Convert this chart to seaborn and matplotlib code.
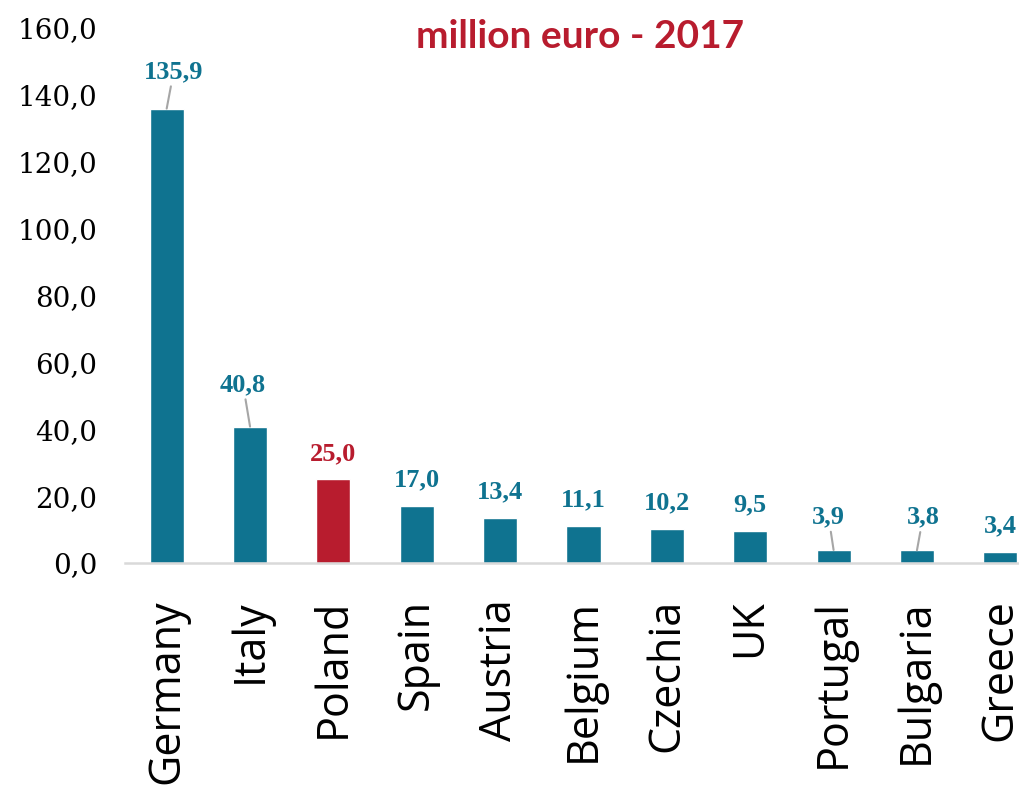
# Bar chart: value per capita, million euro - 2017

import matplotlib
matplotlib.use("Agg")
import matplotlib.pyplot as plt
import pandas as pd
import seaborn as sns

# Data
countries = ["Germany", "Italy", "Poland", "Spain", "Austria", "Belgium",
             "Czechia", "UK", "Portugal", "Bulgaria", "Greece"]
values = [135.9, 40.8, 25.0, 17.0, 13.4, 11.1, 10.2, 9.5, 3.9, 3.8, 3.4]
highlight = "Poland"
title = "million euro - 2017"

teal = "#0F7390"
red = "#B81C2E"

df = pd.DataFrame({"country": countries, "value": values})
palette = {c: (red if c == highlight else teal) for c in countries}

# label offsets in pixels (dx, dy) from bar top, and whether a leader line is drawn
label_style = {
    "Germany": (7, 37, True),
    "Italy": (-7, 42, True),
    "Portugal": (-5, 33, True),
    "Bulgaria": (6, 33, True),
}

sns.set_style("white")
fig = plt.figure(figsize=(10.2, 7.92), dpi=100)
ax = fig.add_axes([125 / 1020, 229 / 792, 917 / 1020, 535 / 792])

sns.barplot(data=df, x="country", y="value", hue="country", palette=palette,
            width=0.41, legend=False, ax=ax, saturation=1)

ax.set_ylim(0, 160)
ax.set_xlim(-0.5, len(countries) - 0.5)
ax.set_yticks(range(0, 161, 20))
ax.set_yticklabels([f"{v:.1f}".replace(".", ",") for v in range(0, 161, 20)],
                   family="DejaVu Serif", fontsize=20, color="black")
ax.set_xticks(range(len(countries)))
ax.set_xticklabels(countries, rotation=90, family="Open Sans", fontsize=31,
                   va="top", color="black")
ax.tick_params(axis="y", length=0, pad=20)
ax.tick_params(axis="x", length=0, pad=26)
ax.set_xlabel("")
ax.set_ylabel("")

for s in ["top", "right", "left"]:
    ax.spines[s].set_visible(False)
ax.spines["bottom"].set_color("#D9D9D9")
ax.spines["bottom"].set_linewidth(1.8)

for i, (c, v) in enumerate(zip(countries, values)):
    dx, dy, line = label_style.get(c, (0, 26, False))
    col = red if c == highlight else teal
    ax.annotate(f"{v:.1f}".replace(".", ","), xy=(i, v),
                xytext=(dx, dy), textcoords="offset pixels",
                ha="center", va="center", fontsize=19, fontweight="bold",
                family="Liberation Serif", color=col,
                arrowprops=dict(arrowstyle="-", color="#A6A6A6", lw=1.5,
                                shrinkA=0, shrinkB=0) if line else None,
                annotation_clip=False)

fig.text(580 / 1020, 1 - 48 / 792, title, ha="center", va="baseline",
         fontsize=28, fontweight="bold", family="Lato", color=red)

fig.savefig("out.png", dpi=100)
